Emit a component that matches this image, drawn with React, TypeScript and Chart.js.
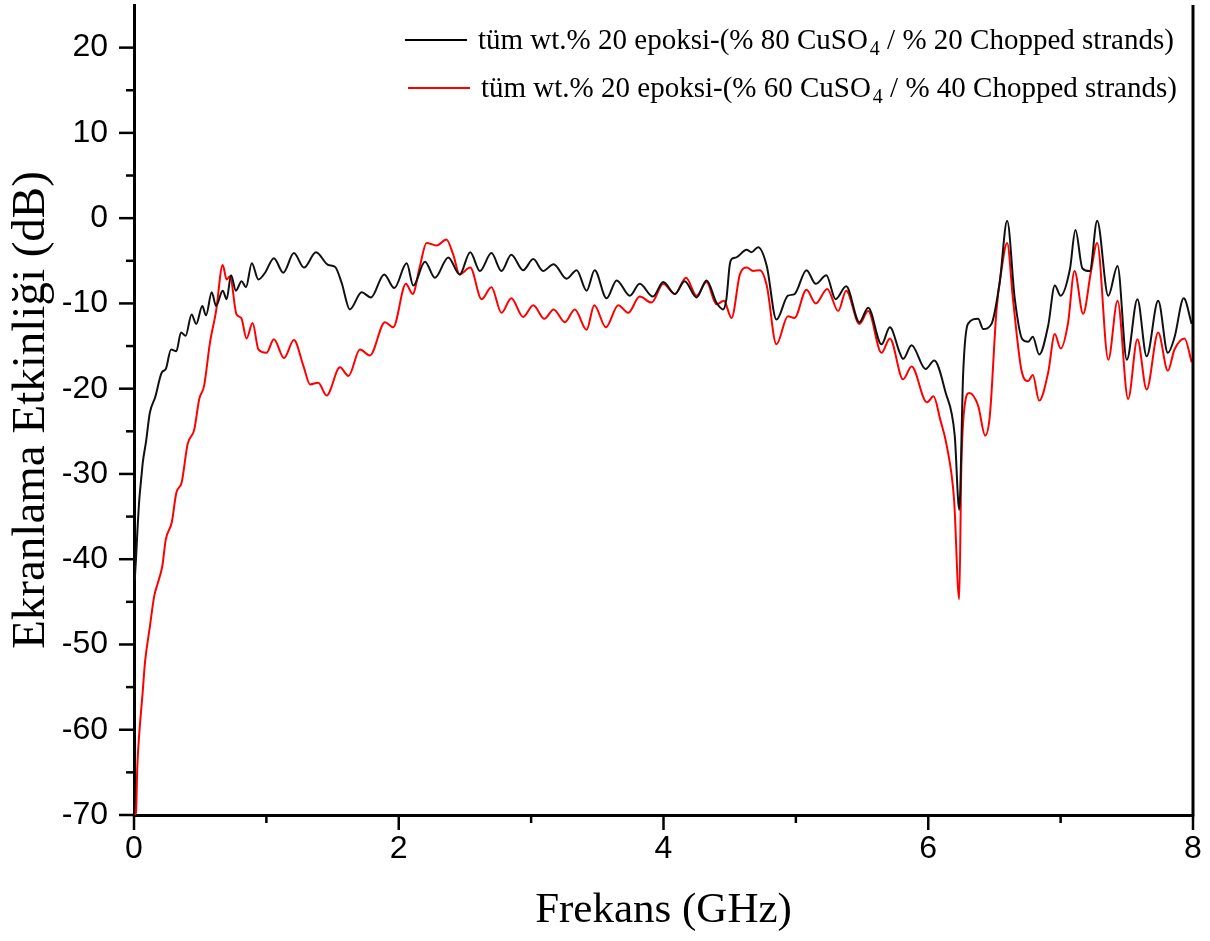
import React, { useEffect, useRef } from "react";
import { Chart, registerables } from "chart.js";

Chart.register(...registerables);

// ---- Data ----
const freqBlack = [
  0.005, 0.015, 0.025, 0.04, 0.058, 0.066, 0.09, 0.12, 0.16, 0.21, 0.24, 0.28, 0.32, 0.355, 0.39, 0.435, 0.47,
  0.516, 0.544, 0.587, 0.62, 0.67, 0.7, 0.733, 0.77, 0.813, 0.846, 0.89, 0.94, 0.99, 1.057, 1.128, 1.208,
  1.284, 1.375, 1.468, 1.518, 1.569, 1.63, 1.72, 1.79, 1.89, 1.966, 2.06, 2.11, 2.198, 2.273, 2.374, 2.46,
  2.54, 2.613, 2.7, 2.776, 2.85, 2.94, 3.016, 3.09, 3.17, 3.268, 3.344, 3.419, 3.48, 3.57, 3.646, 3.746,
  3.82, 3.92, 3.998, 4.086, 4.16, 4.25, 4.325, 4.4, 4.45, 4.475, 4.5, 4.514, 4.55, 4.628, 4.665, 4.715,
  4.78, 4.853, 4.94, 4.99, 5.08, 5.15, 5.23, 5.3, 5.38, 5.48, 5.546, 5.647, 5.71, 5.785, 5.81, 5.874,
  5.98, 6.045, 6.13, 6.2, 6.234, 6.264, 6.3, 6.377, 6.415, 6.478, 6.54, 6.596, 6.654, 6.71, 6.755, 6.79,
  6.838, 6.906, 6.956, 7.0, 7.07, 7.112, 7.165, 7.22, 7.276, 7.36, 7.43, 7.5, 7.58, 7.65, 7.737, 7.81,
  7.86, 7.93, 7.99,
];
const dbBlack = [
  -42.5, -40, -36.9, -33, -30, -28.7, -26.3, -22.8, -21.0, -18.1, -17.7, -15.4, -15.6, -13.4, -13.8, -11.3, -12.4,
  -10.3, -11.4, -8.7, -10.3, -8.5, -9.5, -6.7, -8.5, -7.4, -8.1, -5.3, -7.2, -6.4, -4.7, -6.4, -4.1,
  -5.8, -4.0, -5.5, -5.7, -7.6, -10.7, -8.7, -9.3, -6.6, -8.2, -5.3, -7.9, -5.1, -7.0, -4.6, -6.6,
  -4.0, -6.2, -4.1, -6.2, -4.3, -6.1, -4.8, -6.2, -5.4, -7.1, -6.1, -8.5, -6.1, -9.4, -7.3, -9.1,
  -7.7, -9.2, -7.5, -8.9, -7.4, -9.3, -7.3, -9.9, -10.7, -9.5, -5.5, -4.8, -4.6, -3.7, -4.0, -3.4,
  -5.6, -11.9, -9.1, -8.9, -6.1, -7.7, -6.7, -9.5, -8.0, -12.2, -10.5, -14.8, -12.8, -15.8, -16.5, -14.9,
  -17.7, -16.7, -20.4, -25.5, -34.2, -18.1, -12.4, -11.8, -13.0, -12.4, -7.5, -0.3, -9.5, -14.2, -14.5, -13.9,
  -16.0, -12.6, -7.9, -9.1, -6.0, -1.4, -5.9, -6.2, -0.3, -9.1, -5.6, -16.6, -9.5, -16.2, -9.7, -15.8,
  -14.0, -9.4, -12.4,
];

const freqRed = [
  0.005, 0.015, 0.025, 0.04, 0.065, 0.083, 0.12, 0.153, 0.18, 0.214, 0.24, 0.285, 0.32, 0.36, 0.405, 0.455,
  0.493, 0.529, 0.574, 0.62, 0.67, 0.7, 0.725, 0.775, 0.81, 0.85, 0.896, 0.94, 1.0, 1.057, 1.133, 1.208,
  1.279, 1.33, 1.392, 1.455, 1.556, 1.62, 1.707, 1.782, 1.896, 1.958, 2.054, 2.105, 2.16, 2.21, 2.286,
  2.36, 2.41, 2.46, 2.54, 2.626, 2.7, 2.776, 2.85, 2.94, 3.016, 3.1, 3.17, 3.255, 3.33, 3.419, 3.477,
  3.565, 3.658, 3.733, 3.82, 3.91, 3.998, 4.086, 4.17, 4.25, 4.325, 4.4, 4.456, 4.514, 4.577, 4.628,
  4.678, 4.728, 4.78, 4.853, 4.94, 4.99, 5.08, 5.15, 5.237, 5.32, 5.38, 5.48, 5.546, 5.647, 5.71, 5.81,
  5.874, 5.99, 6.04, 6.09, 6.14, 6.195, 6.234, 6.25, 6.275, 6.31, 6.377, 6.43, 6.465, 6.516, 6.55, 6.596,
  6.64, 6.705, 6.755, 6.79, 6.838, 6.906, 6.956, 7.0, 7.055, 7.105, 7.17, 7.23, 7.276, 7.36, 7.43, 7.51,
  7.58, 7.65, 7.737, 7.81, 7.86, 7.936, 7.99,
];
const dbRed = [
  -70, -69.7, -64.3, -60.4, -55.7, -52.1, -47.9, -44.3, -42.8, -40.8, -37.7, -35.7, -32.2, -31.0, -26.5, -24.8,
  -21.2, -19.7, -14.6, -10.9, -5.5, -7.2, -6.8, -11.3, -11.7, -14.1, -12.3, -15.4, -15.8, -14.2, -16.4, -14.3,
  -17.3, -19.5, -19.3, -20.8, -17.5, -18.5, -15.4, -16.1, -12.2, -12.8, -7.7, -8.9, -5.6, -2.9, -3.2,
  -2.5, -4.2, -6.6, -5.8, -9.5, -8.1, -11.1, -9.4, -11.6, -10.2, -11.8, -10.7, -12.2, -10.7, -13.1, -10.2,
  -12.8, -10.2, -11.1, -9.2, -9.9, -7.7, -8.9, -7.0, -9.1, -7.5, -10.1, -9.7, -11.7, -6.6, -5.8,
  -6.2, -6.1, -7.9, -14.8, -11.5, -11.7, -8.4, -10.0, -8.3, -10.9, -8.5, -12.4, -10.9, -15.8, -14.1, -18.9,
  -17.4, -21.6, -20.9, -23.6, -26.7, -33.0, -44.7, -29.1, -22.0, -20.5, -22.0, -25.5, -23.2, -10.7, -6.4, -2.9,
  -9.5, -17.9, -19.1, -18.4, -21.4, -18.1, -13.6, -15.3, -12.4, -6.2, -11.2, -6.2, -2.9, -16.6, -9.7, -21.2,
  -14.2, -20.1, -13.4, -17.9, -15.4, -14.1, -16.9,
];

const xTickValues = [0, 2, 4, 6, 8];
const xMinorValues = [1, 3, 5, 7];
const yTickValues = [-70, -60, -50, -40, -30, -20, -10, 0, 10, 20];
const yMinorValues = [-65, -55, -45, -35, -25, -15, -5, 5, 15];

const legendEntries = [
  { color: "#000000", before: "tüm wt.% 20 epoksi-(% 80 CuSO", sub: "4", after: " / % 20 Chopped strands)" },
  { color: "#ff0000", before: "tüm wt.% 20 epoksi-(% 60 CuSO", sub: "4", after: " / % 40 Chopped strands)" },
];

const xTitle = "Frekans (GHz)";
const yTitle = "Ekranlama Etkinliği (dB)";

const SERIF = '"Liberation Serif", "Times New Roman", serif';
const SANS = '"Liberation Sans", Arial, sans-serif';

const zeroPad = (s: any) => {
  s.paddingTop = 0;
  s.paddingBottom = 0;
  s.paddingLeft = 0;
  s.paddingRight = 0;
};

const decorPlugin = {
  id: "decor",
  afterDraw(chart: any) {
    const { ctx, chartArea, scales } = chart;
    const xs = scales.x;
    const ys = scales.y;
    ctx.save();
    ctx.strokeStyle = "#000";
    ctx.lineCap = "butt";
    // right border
    ctx.lineWidth = 3;
    ctx.beginPath();
    ctx.moveTo(chartArea.right, chartArea.top);
    ctx.lineTo(chartArea.right, chartArea.bottom + 1.5);
    ctx.stroke();
    // ticks
    ctx.lineWidth = 2.5;
    const left = chartArea.left;
    const bottom = chartArea.bottom;
    yTickValues.forEach((v) => {
      const y = ys.getPixelForValue(v);
      ctx.beginPath();
      ctx.moveTo(left - 15, y);
      ctx.lineTo(left, y);
      ctx.stroke();
    });
    yMinorValues.forEach((v) => {
      const y = ys.getPixelForValue(v);
      ctx.beginPath();
      ctx.moveTo(left - 8, y);
      ctx.lineTo(left, y);
      ctx.stroke();
    });
    xTickValues.forEach((v) => {
      const x = xs.getPixelForValue(v);
      ctx.beginPath();
      ctx.moveTo(x, bottom);
      ctx.lineTo(x, bottom + 15);
      ctx.stroke();
    });
    xMinorValues.forEach((v) => {
      const x = xs.getPixelForValue(v);
      ctx.beginPath();
      ctx.moveTo(x, bottom);
      ctx.lineTo(x, bottom + 8);
      ctx.stroke();
    });

    // legend
    const fontSize = 29;
    const subSize = 20;
    const starts = [
      { lx: 405, ly: 40, tx: 478 },
      { lx: 408, ly: 88, tx: 481 },
    ];
    legendEntries.forEach((e, i) => {
      const s = starts[i];
      ctx.strokeStyle = e.color;
      ctx.lineWidth = 2;
      ctx.beginPath();
      ctx.moveTo(s.lx, s.ly);
      ctx.lineTo(s.lx + 62, s.ly);
      ctx.stroke();
      ctx.fillStyle = "#000";
      ctx.textBaseline = "alphabetic";
      ctx.textAlign = "left";
      const base = s.ly + 9;
      ctx.font = `${fontSize}px ${SERIF}`;
      ctx.fillText(e.before, s.tx, base);
      let x = s.tx + ctx.measureText(e.before).width + 2;
      ctx.font = `${subSize}px ${SERIF}`;
      ctx.fillText(e.sub, x, base + 6);
      x += ctx.measureText(e.sub).width;
      ctx.font = `${fontSize}px ${SERIF}`;
      ctx.fillText(e.after, x, base);
    });
    ctx.restore();
  },
};

export default function App() {
  const canvasRef = useRef<HTMLCanvasElement | null>(null);

  useEffect(() => {
    const canvas = canvasRef.current;
    if (!canvas) return;
    const chart = new Chart(canvas, {
      type: "line",
      data: {
        datasets: [
          {
            label: "black",
            data: freqBlack.map((f, i) => ({ x: f, y: dbBlack[i] })),
            borderColor: "#111111",
            borderWidth: 2,
            pointRadius: 0,
            cubicInterpolationMode: "monotone",
            fill: false,
          },
          {
            label: "red",
            data: freqRed.map((f, i) => ({ x: f, y: dbRed[i] })),
            borderColor: "#ff0000",
            borderWidth: 2,
            pointRadius: 0,
            cubicInterpolationMode: "monotone",
            fill: false,
          },
        ],
      },
      options: {
        animation: false,
        responsive: false,
        maintainAspectRatio: false,
        layout: { padding: { top: 5, right: 17, left: 0, bottom: 0 } },
        plugins: {
          legend: { display: false },
          tooltip: { enabled: false },
        },
        scales: {
          x: {
            type: "linear",
            min: 0,
            max: 8,
            afterBuildTicks: (s: any) => {
              s.ticks = xTickValues.map((v) => ({ value: v }));
            },
            afterFit: (s: any) => {
              s.height = 126;
              zeroPad(s);
            },
            grid: { display: false, drawTicks: false },
            border: { display: true, color: "#000", width: 3 },
            ticks: {
              color: "#000",
              padding: 15,
              maxRotation: 0,
              font: { family: SANS, size: 32 },
            },
            title: {
              display: true,
              text: xTitle,
              color: "#000",
              font: { family: SERIF, size: 43 },
              padding: { top: 0, bottom: 4 },
            },
          },
          y: {
            type: "linear",
            min: -70,
            max: 25,
            afterBuildTicks: (s: any) => {
              s.ticks = yTickValues.map((v) => ({ value: v }));
            },
            afterFit: (s: any) => {
              s.width = 134;
              zeroPad(s);
            },
            grid: { display: false, drawTicks: false },
            border: { display: true, color: "#000", width: 3 },
            ticks: {
              color: "#000",
              padding: 26,
              font: { family: SANS, size: 32 },
            },
            title: {
              display: true,
              text: yTitle,
              color: "#000",
              font: { family: SERIF, size: 47 },
              padding: { top: 3, bottom: 0 },
            },
          },
        },
      },
      plugins: [decorPlugin],
    } as any);
    return () => chart.destroy();
  }, []);

  return (
    <div style={{ position: "absolute", left: 0, top: 0, width: 1210, height: 941, background: "#fff" }}>
      <canvas ref={canvasRef} width={1210} height={941} style={{ display: "block", width: 1210, height: 941 }} />
    </div>
  );
}
